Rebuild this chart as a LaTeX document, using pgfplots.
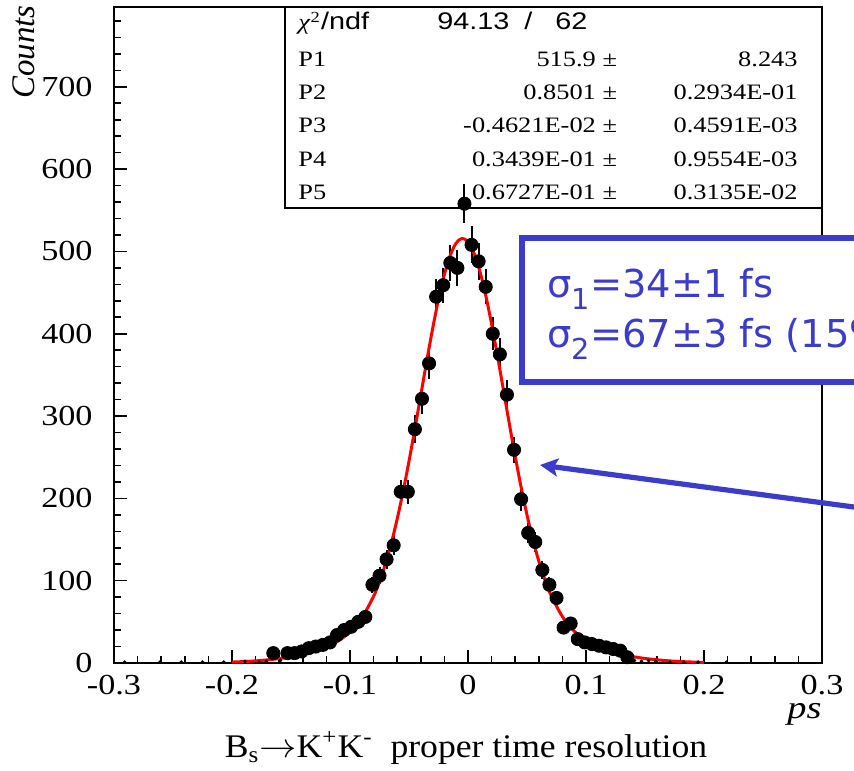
\documentclass[border=0pt]{standalone}
\usepackage{fontspec}
\setmainfont{Liberation Serif}
\newfontfamily\sansf{Liberation Sans}
\newfontfamily\bluef{DejaVu Sans}
\usepackage{graphicx}
\usepackage{pgfplots}
\pgfplotsset{compat=1.18}
\usetikzlibrary{arrows.meta}
\definecolor{annblue}{RGB}{60,60,204}
\newcommand\tl[1]{\scalebox{1.18}[1]{#1}}
\newcommand\sx[1]{\scalebox{1.2}[1]{#1}}
\newcommand\sub[1]{{\fontsize{14.4}{14.4}\selectfont\raisebox{-6pt}{#1}}}
\begin{document}
\begin{tikzpicture}[x=1pt,y=1pt]
\path[use as bounding box] (0,0) rectangle (427,385);
% statistics box (drawn first, markers go over it)
\draw[line width=0.6pt, fill=white] (142.5,281) rectangle (411,381.5);
\begin{axis}[
  at={(57pt,53.5pt)}, anchor=south west, scale only axis,
  width=354pt, height=328pt,
  xmin=-0.3, xmax=0.3, ymin=0, ymax=797,
  axis line style={line width=0.8pt},
  tick align=inside, xtick pos=bottom, ytick pos=left,
  tick style={line width=0.8pt, black},
  major tick length=6.7pt, minor tick length=3.3pt,
  xtick={-0.3,-0.2,-0.1,0,0.1,0.2,0.3},
  xticklabels={\tl{-0.3},\tl{-0.2},\tl{-0.1},\tl{0},\tl{0.1},\tl{0.2},\tl{0.3}},
  minor xtick={-0.28,-0.26,-0.24,-0.22,-0.18,-0.16,-0.14,-0.12,-0.08,-0.06,-0.04,-0.02,0.02,0.04,0.06,0.08,0.12,0.14,0.16,0.18,0.22,0.24,0.26,0.28},
  ytick={0,100,200,300,400,500,600,700},
  yticklabels={\tl{0},\tl{100},\tl{200},\tl{300},\tl{400},\tl{500},\tl{600},\tl{700}},
  minor ytick={20,40,60,80,120,140,160,180,220,240,260,280,320,340,360,380,420,440,460,480,520,540,560,580,620,640,660,680,720,740,760,780},
  xticklabel style={font=\fontsize{14.5}{14.5}\selectfont, anchor=north, inner sep=0pt, yshift=-6pt},
  yticklabel style={font=\fontsize{14.5}{14.5}\selectfont, anchor=east, inner sep=0pt, xshift=-10.5pt},
]
% low-count bins
\addplot[only marks, mark=*, mark size=0.7pt, black,
  error bars/.cd, y dir=both, y explicit, error mark=none,
  error bar style={line width=0.7pt, black}]
  table[x=x, y=y, y error=e] {
x y e
-0.291 1 1
-0.261 1 1
-0.243 1 1
-0.225 1 1
-0.207 1 1
-0.189 2 1.4
-0.177 1 1
-0.171 2 1.4
-0.159 3 1.7
0.141 3 1.7
0.147 2 1.4
0.153 3 1.7
0.159 2 1.4
0.171 1 1
0.183 1 1
0.195 1 1
0.219 1 1
};
% data points
\addplot[only marks, mark=*, mark size=3.3pt, black,
  error bars/.cd, y dir=both, y explicit, error mark=none,
  error bar style={line width=1pt, black}]
  table[x=x, y=y, y error=e] {
x y e
-0.165 12 3.46
-0.153 12 3.46
-0.147 12 3.46
-0.141 14 3.74
-0.135 18 4.24
-0.129 20 4.47
-0.123 22 4.69
-0.117 25 5.00
-0.111 34 5.83
-0.105 40 6.32
-0.099 44 6.63
-0.093 50 7.07
-0.087 56 7.48
-0.081 95 9.75
-0.075 106 10.30
-0.069 126 11.22
-0.063 143 11.96
-0.057 208 14.42
-0.051 208 14.42
-0.045 284 16.85
-0.039 321 17.92
-0.033 364 19.08
-0.027 445 21.10
-0.021 459 21.42
-0.015 486 22.05
-0.009 480 21.91
-0.003 558 23.62
0.003 508 22.54
0.009 488 22.09
0.015 457 21.38
0.021 400 20.00
0.027 375 19.36
0.033 326 18.06
0.039 259 16.09
0.045 199 14.11
0.051 158 12.57
0.057 147 12.12
0.063 113 10.63
0.069 95 9.75
0.075 79 8.89
0.081 43 6.56
0.087 48 6.93
0.093 29 5.39
0.099 25 5.00
0.105 23 4.80
0.111 21 4.58
0.117 19 4.36
0.123 17 4.12
0.129 15 3.87
0.135 7 2.65
};
% fit curve
\addplot[red, line width=1.5pt, smooth] coordinates {
(-0.20,1.14) (-0.19,1.74) (-0.18,2.59) (-0.17,3.77) (-0.16,5.38) (-0.15,7.55)
(-0.14,10.40) (-0.13,14.19) (-0.12,19.34) (-0.11,26.68) (-0.10,37.67) (-0.09,54.68)
(-0.08,80.96) (-0.075,98.77) (-0.07,120.21) (-0.065,145.59) (-0.06,175.04) (-0.055,208.40)
(-0.05,245.22) (-0.045,284.70) (-0.04,325.70) (-0.035,366.72) (-0.03,406.03) (-0.025,441.81)
(-0.02,472.18) (-0.015,495.46) (-0.01,510.32) (-0.005,515.88) (0,511.78) (0.005,498.28)
(0.01,476.20) (0.015,446.81) (0.02,411.73) (0.025,372.84) (0.03,331.95) (0.035,290.86)
(0.04,251.07) (0.045,213.78) (0.05,179.85) (0.055,149.79) (0.06,123.80) (0.065,101.77)
(0.07,83.45) (0.08,56.30) (0.09,38.72) (0.10,27.36) (0.11,19.81) (0.12,14.52)
(0.13,10.65) (0.14,7.73) (0.15,5.53) (0.16,3.88) (0.17,2.66) (0.18,1.79) (0.19,1.18) (0.20,0.76)
};
\end{axis}
% axis titles
\node[rotate=90, anchor=north east, inner sep=0pt, font=\fontsize{16.5}{16.5}\selectfont\itshape] at (6,382.5) {Counts};
\node[anchor=base east, inner sep=0pt, font=\fontsize{16}{16}\selectfont\itshape] at (411,26) {\sx{ps}};
\node[anchor=base, inner sep=0pt, font=\fontsize{16.5}{16.5}\selectfont] at (233,6.5)
  {\scalebox{1.08}[1]{B\textsubscript{s}$\rightarrow$K\textsuperscript{+}K\textsuperscript{-}\ \ proper time resolution}};
% statistics text
\begin{scope}[every node/.style={inner sep=0pt, font=\fontsize{11}{11}\selectfont}]
\node[anchor=base west] at (149,370) {\sx{\textit{χ}\textsuperscript{2}{\sansf\fontsize{12}{12}\selectfont /ndf}}};
\node[anchor=base west] at (218.5,370) {\sx{\sansf\fontsize{12}{12}\selectfont 94.13}};
\node[anchor=base west] at (262,370) {\sx{\sansf\fontsize{12}{12}\selectfont /}};
\node[anchor=base west] at (277.5,370) {\sx{\sansf\fontsize{12}{12}\selectfont 62}};
\node[anchor=base west] at (149,351.5) {\sx{P1}};
\node[anchor=base east] at (308.7,351.5) {\sx{515.9 ±}};
\node[anchor=base east] at (399,351.5) {\sx{8.243}};
\node[anchor=base west] at (149,335) {\sx{P2}};
\node[anchor=base east] at (308.7,335) {\sx{0.8501 ±}};
\node[anchor=base east] at (399,335) {\sx{0.2934E-01}};
\node[anchor=base west] at (149,318.5) {\sx{P3}};
\node[anchor=base east] at (308.7,318.5) {\sx{-0.4621E-02 ±}};
\node[anchor=base east] at (399,318.5) {\sx{0.4591E-03}};
\node[anchor=base west] at (149,301.5) {\sx{P4}};
\node[anchor=base east] at (308.7,301.5) {\sx{0.3439E-01 ±}};
\node[anchor=base east] at (399,301.5) {\sx{0.9554E-03}};
\node[anchor=base west] at (149,285) {\sx{P5}};
\node[anchor=base east] at (308.7,285) {\sx{0.6727E-01 ±}};
\node[anchor=base east] at (399,285) {\sx{0.3135E-02}};
\end{scope}
% blue annotation
\draw[annblue, line width=2.6pt, fill=white] (261,194) rectangle (480,266);
\node[anchor=base west, inner sep=0pt, text=annblue, font=\bluef\fontsize{19.2}{19.2}\selectfont] at (273.5,236) {σ\sub{1}=34±1 fs};
\node[anchor=base west, inner sep=0pt, text=annblue, font=\bluef\fontsize{19.2}{19.2}\selectfont] at (273.5,211) {σ\sub{2}=67±3 fs (15\%)};
\draw[annblue, line width=2.6pt, -{Stealth[length=9pt,width=9pt,inset=2pt]}] (440,129.75) -- (270,152.5);
\end{tikzpicture}
\end{document}
